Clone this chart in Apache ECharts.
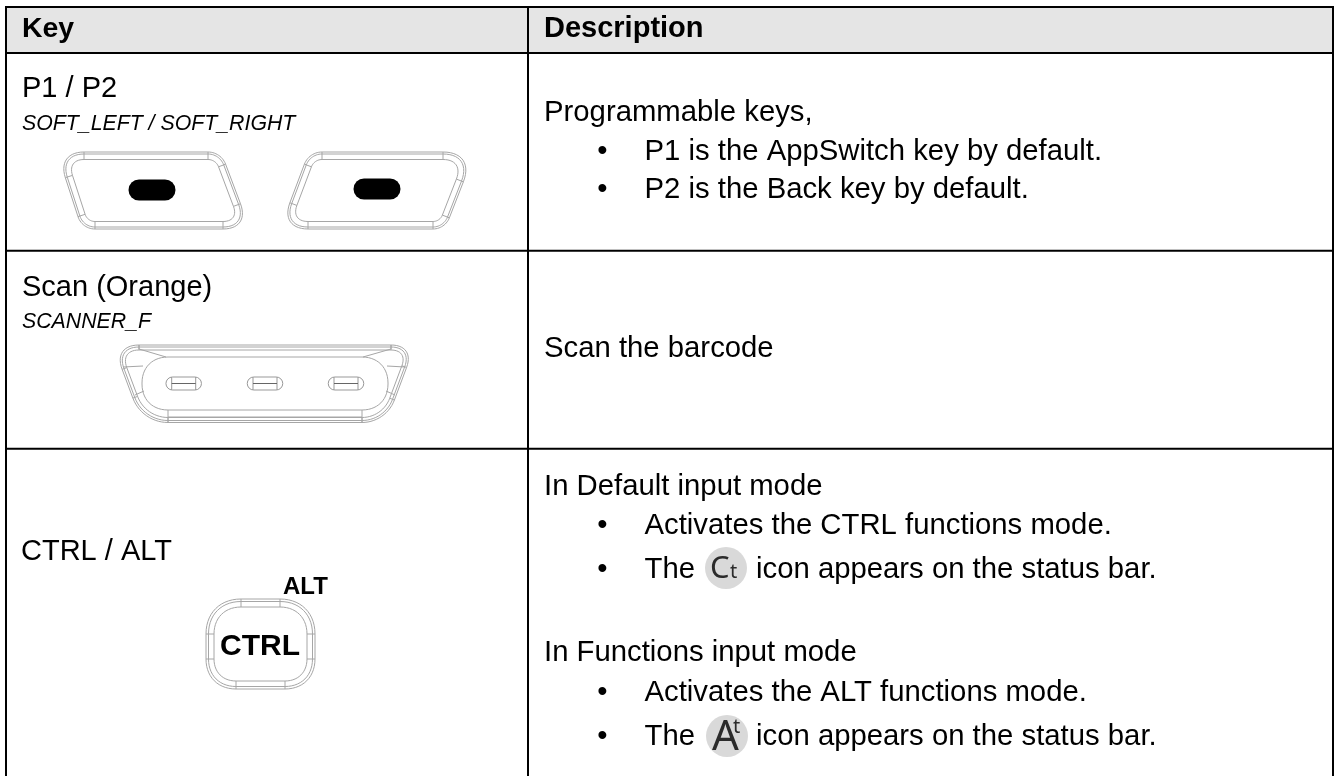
<!DOCTYPE html>
<html>
<head>
<meta charset="utf-8">
<title>Keys</title>
<style>
html, body { margin: 0; padding: 0; background: #fff; }
#main { width: 1335px; height: 776px; }
</style>
<script src="https://cdn.jsdelivr.net/npm/echarts@6/dist/echarts.min.js"></script>
</head>
<body>
<div id="main"></div>
<script>
// table text
var headers = ['Key', 'Description'];
var keyNames = ['P1 / P2', 'Scan (Orange)', 'CTRL / ALT'];
var keyCodes = ['SOFT_LEFT / SOFT_RIGHT', 'SCANNER_F'];
var plainLines = ['Programmable keys,', 'Scan the barcode', 'In Default input mode', 'In Functions input mode'];
var bulletLines = ['P1 is the AppSwitch key by default.', 'P2 is the Back key by default.',
    'Activates the CTRL functions mode.', 'Activates the ALT functions mode.'];
var iconLineHead = 'The';
var iconLineTail = 'icon appears on the status bar.';

// layout
var FONT = '"Liberation Sans", Arial, sans-serif';
var BODY = 29, DESC = 29.3, SMALL = 21.3;
var X_LEFT = 6, X_MID = 528, X_RIGHT = 1333, Y_TOP = 7, Y_HEAD = 53, Y_BOTTOM = 776;
var rowLines = [250.7, 448.7];
var plainBaselines = [122, 358, 496, 662];
var bulletBaselines = [161, 199, 535, 702];
var iconBaselines = [579, 746];
var GREY = '#a6a6a6';

var els = [];

function text(str, x, baseline, size, opt) {
    opt = opt || {};
    els.push({
        type: 'text', x: x, y: baseline - size * 0.3465 + 1.5, silent: true, z: opt.z || 5,
        style: {
            text: str,
            fill: opt.color || '#000',
            font: (opt.style || '') + ' ' + size + 'px ' + (opt.family || FONT),
            textAlign: opt.align || 'left',
            textVerticalAlign: 'middle'
        }
    });
}

function line(x1, y1, x2, y2, color, width) {
    els.push({
        type: 'line', silent: true, z: color === '#000' ? 4 : 3,
        shape: { x1: x1, y1: y1, x2: x2, y2: y2 },
        style: { stroke: color, lineWidth: width }
    });
}

// one outline of a rounded key, pushed in by d from the sharp polygon v
function outlinePoints(v, t, d) {
    var n = v.length, edges = [], pts = [];
    for (var i = 0; i < n; i++) {
        var a = v[i], b = v[(i + 1) % n];
        var len = Math.hypot(b[0] - a[0], b[1] - a[1]);
        var ux = (b[0] - a[0]) / len, uy = (b[1] - a[1]) / len;
        var nx = -uy, ny = ux;
        edges.push({
            ux: ux, uy: uy,
            ax: a[0] + nx * d, ay: a[1] + ny * d,
            s: [a[0] + ux * t[i] + nx * d, a[1] + uy * t[i] + ny * d],
            e: [b[0] - ux * t[(i + 1) % n] + nx * d, b[1] - uy * t[(i + 1) % n] + ny * d]
        });
    }
    for (var j = 0; j < n; j++) {
        var prev = edges[(j + n - 1) % n], cur = edges[j];
        // corner control point: where the two pushed edges cross
        var det = prev.ux * cur.uy - prev.uy * cur.ux;
        var k = ((cur.ax - prev.ax) * cur.uy - (cur.ay - prev.ay) * cur.ux) / det;
        var c = [prev.ax + prev.ux * k, prev.ay + prev.uy * k];
        var p0 = prev.e, p3 = cur.s, f = 0.6;
        var p1 = [p0[0] + (c[0] - p0[0]) * f, p0[1] + (c[1] - p0[1]) * f];
        var p2 = [p3[0] + (c[0] - p3[0]) * f, p3[1] + (c[1] - p3[1]) * f];
        for (var s = 0; s <= 14; s++) {
            var q = s / 14, r = 1 - q;
            pts.push([
                r * r * r * p0[0] + 3 * r * r * q * p1[0] + 3 * r * q * q * p2[0] + q * q * q * p3[0],
                r * r * r * p0[1] + 3 * r * r * q * p1[1] + 3 * r * q * q * p2[1] + q * q * q * p3[1]
            ]);
        }
    }
    return { pts: pts, edges: edges };
}

function keyShape(v, t, insets, color, width) {
    var first = null, last = null;
    insets.forEach(function (d, idx) {
        var o = outlinePoints(v, t, d);
        if (idx === 0) first = o;
        last = o;
        els.push({
            type: 'polygon', silent: true, z: 3,
            shape: { points: o.pts },
            style: { fill: 'transparent', stroke: color || GREY, lineWidth: width || 1 }
        });
    });
    // little cross lines where each corner starts and ends
    first.edges.forEach(function (e, i) {
        var l = last.edges[i];
        line(e.s[0], e.s[1], l.s[0], l.s[1], color || GREY, 1);
        line(e.e[0], e.e[1], l.e[0], l.e[1], color || GREY, 1);
    });
}

function pill(cx, cy, w, h, fill, stroke) {
    els.push({
        type: 'rect', silent: true, z: 3,
        shape: { x: cx - w / 2, y: cy - h / 2, width: w, height: h, r: h / 2 },
        style: { fill: fill, stroke: stroke || null, lineWidth: 1 }
    });
}

// table frame
els.push({
    type: 'rect', silent: true, z: 1,
    shape: { x: X_LEFT, y: Y_TOP, width: X_RIGHT - X_LEFT, height: Y_HEAD - Y_TOP },
    style: { fill: '#e5e5e5' }
});
[Y_TOP, Y_HEAD].concat(rowLines).forEach(function (y) {
    line(X_LEFT - 1, y, X_RIGHT + 1, y, '#000', 2);
});
[X_LEFT, X_MID, X_RIGHT].forEach(function (x) {
    line(x, Y_TOP, x, Y_BOTTOM, '#000', 2);
});

// header and left column
text(headers[0], 22, 38, 28.4, { style: 'bold' });
text(headers[1], 544, 38, BODY, { style: 'bold' });
text(keyNames[0], 22, 98, BODY);
text(keyCodes[0], 22, 130, SMALL, { style: 'italic' });
text(keyNames[1], 22, 297, BODY);
text(keyCodes[1], 22, 328, SMALL, { style: 'italic' });
text(keyNames[2], 21, 561, BODY);

// right column
plainLines.forEach(function (s, i) { text(s, 544, plainBaselines[i], DESC); });
bulletLines.forEach(function (s, i) {
    text('\u2022', 602.5, bulletBaselines[i], DESC, { align: 'center' });
    text(s, 644.5, bulletBaselines[i], DESC);
});
iconBaselines.forEach(function (b) {
    text('\u2022', 602.5, b, DESC, { align: 'center' });
    text(iconLineHead, 644.5, b, DESC);
    text(iconLineTail, 756, b, DESC);
});

// status bar icons
els.push({ type: 'circle', silent: true, z: 3, shape: { cx: 726, cy: 568, r: 21 }, style: { fill: '#d9d9d9' } });
els.push({ type: 'circle', silent: true, z: 3, shape: { cx: 727, cy: 736, r: 21 }, style: { fill: '#d9d9d9' } });
text('C', 710, 578, 31, { color: '#2b2b2b', family: '"Noto Sans", sans-serif' });
text('t', 730, 578, 20, { color: '#2b2b2b', family: '"Noto Sans", sans-serif' });
text('A', 712, 751, 42, { color: '#2b2b2b', family: '"Noto Sans", sans-serif' });
text('t', 733, 733, 20, { color: '#2b2b2b', family: '"Noto Sans", sans-serif' });

// P1 key
keyShape([[57, 152], [221, 152], [250, 229], [82, 229]], [27, 13, 27, 13], [0, 2, 7.5]);
pill(152, 190, 47, 21, '#000');
// P2 key
keyShape([[309, 152], [475, 152], [445, 229], [280, 229]], [13, 32, 12, 28], [0, 2, 7.5]);
pill(377, 189, 47, 21, '#000');

// Scan key
keyShape([[113, 345], [415, 345], [386, 422.5], [142, 422.5]], [26, 24, 24, 26], [0, 2, 5]);
keyShape([[142, 357], [388, 357], [388, 410], [142, 410]], [26, 26, 26, 26], [0]);
[[139, 349, 166, 357], [391, 349, 363, 357], [123, 367, 143, 366], [405, 367, 387, 366],
 [135, 395, 144, 391], [395, 395, 386, 391], [168, 410, 168, 422.5], [362, 410, 362, 422.5],
 [139, 345, 139, 349], [391, 345, 391, 349], [168, 417, 362, 417]].forEach(function (l) {
    line(l[0], l[1], l[2], l[3], GREY, 1);
});
[183.7, 265, 346].forEach(function (cx) {
    pill(cx, 383.5, 35.5, 13, '#fff', '#999');
    line(cx - 12, 377, cx - 12, 390, '#999', 1);
    line(cx + 12, 377, cx + 12, 390, '#999', 1);
    line(cx - 12, 383.5, cx + 12, 383.5, '#666', 1);
});

// CTRL key
keyShape([[206, 599], [315, 599], [315, 689], [206, 689]], [35, 35, 30, 30], [0, 2.5, 8]);
text('CTRL', 220, 656, 30, { style: 'bold' });
text('ALT', 283, 594, 24, { style: 'bold' });

var chart = echarts.init(document.getElementById('main'));
chart.setOption({
    backgroundColor: '#fff',
    animation: false,
    graphic: { elements: els }
});
</script>
</body>
</html>
